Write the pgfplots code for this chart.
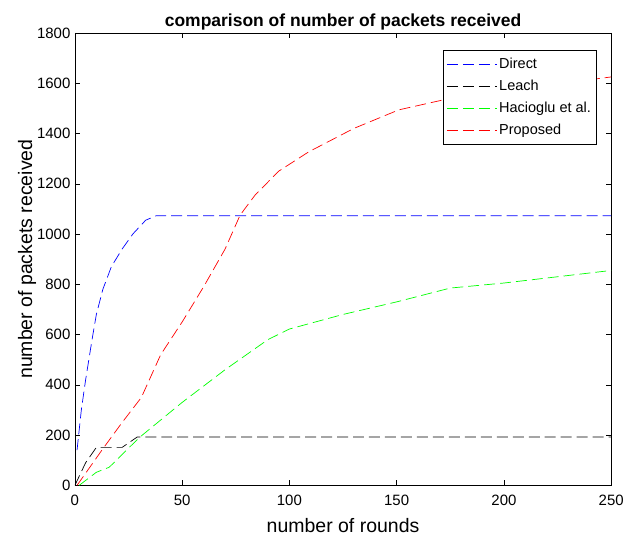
\documentclass[border=0pt]{standalone}
\usepackage{fontspec}
\setmainfont{Liberation Sans}
\usepackage{pgfplots}
\pgfplotsset{compat=1.18}
\begin{document}
\begin{tikzpicture}
\begin{axis}[
  scale only axis,
  width=537pt, height=453pt,
  xmin=0, xmax=250, ymin=0, ymax=1800,
  xtick={0,50,...,250}, ytick={0,200,...,1800},
  tick align=inside, tick pos=both,
  major tick length=5pt,
  axis line style={line width=0.6pt},
  every tick/.style={black, line width=0.5pt},
  /pgf/number format/assume math mode=true,
  /pgf/number format/1000 sep={},
  tick label style={font=\fontsize{15}{18}\selectfont},
  xticklabel style={yshift=-6pt},
  yticklabel style={xshift=-1pt},
  xlabel={number of rounds},
  ylabel={number of packets received},
  label style={font=\fontsize{19.5}{22}\selectfont},
  xlabel style={yshift=-6pt},
  ylabel style={yshift=-6pt},
  title={\textbf{comparison of number of packets received}},
  title style={font=\fontsize{17.5}{20}\selectfont, yshift=-7pt},
  legend style={at={(rel axis cs:0.972,0.962)}, anchor=north east,
    font=\fontsize{14.5}{17}\selectfont, draw=black,
    row sep=4pt, inner xsep=3pt, inner ysep=5pt,
    nodes={inner ysep=3pt}},
  legend cell align=left,
  legend image code/.code={\draw[#1] (0pt,0pt) -- (50pt,0pt);},
  every axis plot/.append style={line width=0.7pt, dash pattern=on 11pt off 5pt},
]
\addplot[blue] coordinates {(1,140)(3,300)(5,420)(8,580)(10,680)(13,779)(17,870)(22,940)(27,1000)(33,1055)(38,1073)(250,1073)};
\addlegendentry{Direct}
\addplot[black] coordinates {(0,0)(5,90)(10,151)(22,151)(29,192)(250,192)};
\addlegendentry{Leach}
\addplot[green] coordinates {(2,0)(10,52)(16,72)(30,190)(50,330)(70,460)(90,580)(100,622)(125,680)(150,730)(175,785)(200,805)(250,855)};
\addlegendentry{Hacioglu et al.}
\addplot[red] coordinates {(1,0)(13,145)(22,250)(31,350)(40,520)(50,650)(60,790)(70,940)(77,1075)(84,1155)(95,1250)(109,1327)(130,1420)(151,1494)(175,1540)(200,1570)(250,1625)};
\addlegendentry{Proposed}
\end{axis}
\path (-75pt,-56pt) rectangle (552pt,486pt);
\end{tikzpicture}
\end{document}
